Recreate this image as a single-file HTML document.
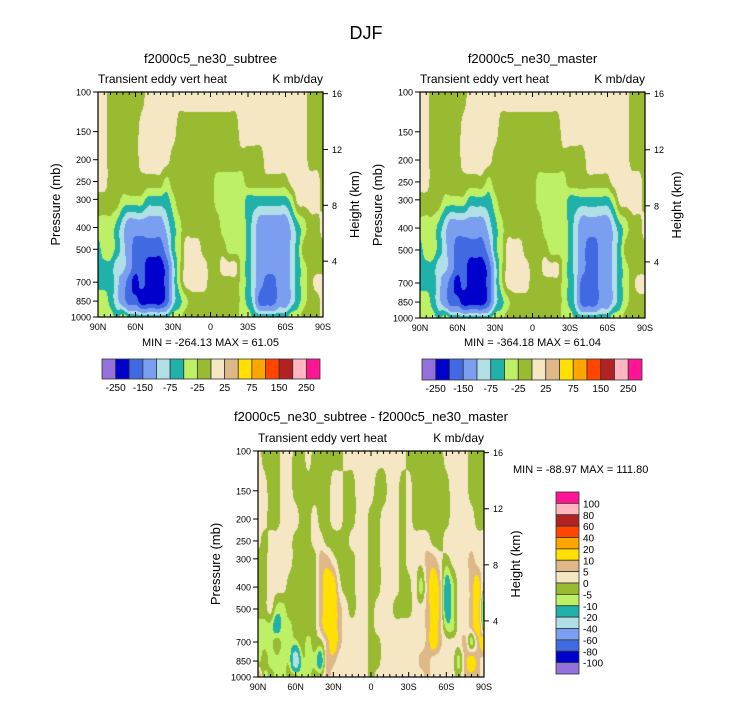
<!DOCTYPE html>
<html><head><meta charset="utf-8">
<style>
html,body{margin:0;padding:0;background:#fff;}
#wrap{position:relative;width:733px;height:701px;overflow:hidden;font-family:"Liberation Sans",Arial,sans-serif;}
canvas{position:absolute;}
svg{position:absolute;left:0;top:0;}
</style></head>
<body>
<div id="wrap">
<canvas id="c1"></canvas>
<canvas id="c2"></canvas>
<canvas id="c3"></canvas>
<svg id="ov" width="733" height="701"></svg>
</div>
<script>
// ---- data (latitude columns every 5 deg, 90N -> 90S) ----
const pLevels = [100,150,200,250,300,400,500,600,700,850,1000];
const subtreeValues = [
 [10,10,-10,-10,-10,-10,-10,-10,10,10,10,10,10,10,10,10,10,10,10,10,10,10,10,10,10,10,10,10,10,10,10,10,10,10,-10,-10,-10],
 [10,10,-10,-10,-10,-10,-10,10,10,10,10,10,10,-10,-10,-10,-10,-10,-10,-10,-10,-10,-10,10,10,10,10,10,10,10,10,10,10,10,-10,-10,-10],
 [10,10,-10,-10,-10,-10,-10,10,10,10,10,10,-10,-10,-10,-10,-10,-10,-10,-10,-10,-10,-10,-10,-10,-10,-10,10,10,10,10,10,10,10,-10,-10,-10],
 [10,10,-10,-10,-10,-10,-10,-10,-10,-10,-10,-35,-10,-10,-10,-10,-10,-10,-10,-35,-35,-35,-35,-35,-10,-10,-10,-10,-10,-10,-10,10,10,10,10,10,-10],
 [-10,-10,-10,-10,-35,-35,-35,-35,-60,-60,-60,-60,-35,-10,-10,-10,-10,-10,-10,-35,-35,-35,-35,-35,-60,-60,-60,-60,-60,-60,-60,-35,10,10,10,10,-10],
 [-35,-35,-35,-60,-90,-125,-125,-125,-125,-125,-125,-90,-60,-35,-10,-10,-10,-10,-10,-10,-35,-35,-35,-35,-60,-90,-125,-125,-125,-125,-125,-90,-60,-35,-10,-10,10],
 [-60,-35,-35,-60,-90,-125,-175,-175,-175,-175,-175,-125,-60,-35,10,10,10,-10,-10,-10,-10,-35,-35,-35,-60,-90,-125,-125,-125,-125,-125,-90,-60,-10,-10,-10,-10],
 [-60,-60,-60,-90,-90,-125,-175,-175,-225,-225,-225,-175,-90,-35,10,10,10,10,-10,-10,10,10,10,-35,-60,-90,-125,-125,-125,-125,-125,-90,-60,-35,-10,-10,-10],
 [-60,-60,-60,-90,-125,-175,-225,-175,-225,-225,-225,-175,-90,-35,10,10,10,10,-10,-10,-10,-10,-10,-35,-60,-90,-125,-175,-175,-125,-125,-90,-60,-35,-10,10,10],
 [-35,-35,-60,-90,-125,-175,-175,-225,-225,-225,-225,-175,-90,-60,-35,-10,-10,-10,-10,-10,-10,-10,-10,-35,-60,-90,-175,-175,-175,-125,-125,-90,-60,-35,-10,-10,10],
 [-35,-35,-35,-60,-35,-60,-60,-60,-60,-60,-60,-60,-35,-35,-10,-10,-10,-10,-10,-10,-10,-10,-10,-35,-35,-60,-60,-60,-60,-60,-60,-35,-35,-10,-10,-10,10]
];
const masterValues = [
 [10,10,-10,-10,-10,-10,-10,-10,10,10,10,10,10,10,10,10,10,10,10,10,10,10,10,10,10,10,10,10,10,10,10,10,10,10,-10,-10,-10],
 [10,10,-10,-10,-10,-10,-10,10,10,10,10,10,10,-10,-10,-10,-10,-10,-10,-10,-10,-10,-10,10,10,10,10,10,10,10,10,10,10,10,-10,-10,-10],
 [10,10,-10,-10,-10,-10,-10,10,10,10,10,10,-10,-10,-10,-10,-10,-10,-10,-10,-10,-10,-10,-10,-10,-10,-10,10,10,10,10,10,10,10,-10,-10,-10],
 [10,10,-10,-10,-10,-10,-10,-10,-10,-10,-10,-35,-10,-10,-10,-10,-10,-10,-10,-35,-35,-35,-35,-35,-10,-10,-10,-10,-10,-10,-10,10,10,10,10,10,-10],
 [-10,-10,-10,-10,-35,-35,-35,-35,-60,-60,-60,-60,-35,-10,-10,-10,-10,-10,-10,-35,-35,-35,-35,-35,-60,-60,-60,-60,-60,-60,-60,-35,10,10,10,10,-10],
 [-35,-35,-35,-60,-90,-125,-125,-125,-125,-125,-125,-90,-60,-35,-10,-10,-10,-10,-10,-10,-35,-35,-35,-35,-60,-90,-125,-125,-125,-125,-125,-90,-60,-35,-10,-10,10],
 [-60,-35,-35,-60,-90,-125,-175,-175,-175,-175,-175,-125,-60,-35,10,10,10,-10,-10,-10,-10,-35,-35,-35,-60,-90,-125,-175,-175,-125,-125,-90,-60,-10,-10,-10,-10],
 [-60,-60,-60,-90,-90,-125,-175,-175,-225,-225,-225,-175,-90,-35,10,10,10,10,-10,-10,10,10,10,-35,-60,-90,-125,-175,-175,-125,-125,-90,-60,-35,-10,-10,-10],
 [-60,-60,-60,-90,-125,-175,-225,-175,-225,-225,-225,-175,-90,-35,10,10,10,10,-10,-10,-10,-10,-10,-35,-60,-90,-175,-175,-175,-125,-125,-90,-60,-35,-10,10,10],
 [-35,-35,-60,-90,-125,-175,-175,-225,-225,-225,-225,-175,-90,-60,-35,-10,-10,-10,-10,-10,-10,-10,-10,-35,-60,-90,-175,-175,-175,-125,-125,-90,-60,-35,-10,-10,-10],
 [-35,-35,-35,-60,-35,-60,-60,-60,-60,-60,-60,-60,-35,-35,-10,-10,-10,-10,-10,-10,-10,-10,-10,-35,-35,-60,-60,-60,-60,-60,-60,-35,-35,-10,-10,-10,-10]
];
const diffValues = [
 [2,-2,-2,-2,2,2,-2,-2,2,-2,-2,-2,-2,-2,2,2,2,2,2,2,2,2,2,2,-2,-2,-2,-2,-2,-2,2,2,2,2,-2,-2,-2],
 [2,2,-2,-2,2,2,-2,-2,-2,-2,-2,-2,2,2,-2,-2,2,2,2,-2,-2,2,2,-2,2,-2,-2,-2,-2,-2,-2,2,2,2,-2,-2,-2],
 [2,2,-2,-2,2,2,2,-2,-2,2,-2,-2,2,2,-2,-2,2,2,-2,-2,2,2,2,-2,2,-2,-2,-2,-2,-2,-2,2,2,2,2,-2,-2],
 [2,-2,2,2,2,2,-2,-2,-2,2,2,-2,-2,-2,-2,2,2,2,-2,-2,2,2,2,-2,2,2,2,2,-2,-2,2,2,2,2,2,2,2],
 [-2,-2,2,2,2,2,-2,-2,-2,-2,7,7,2,-2,-2,-2,2,2,-2,-2,2,2,2,-2,2,2,2,7,7,2,-2,2,2,2,7,2,2],
 [-2,-2,2,2,2,-2,-2,-2,-2,-2,7,15,15,2,-2,-2,2,2,-2,-2,2,2,2,-2,-2,2,-7,7,15,7,-15,-7,2,2,7,15,-2],
 [-2,-2,2,-7,-7,-2,-2,-2,-2,-2,7,15,15,7,2,-2,2,2,-2,2,2,2,-2,-2,-2,2,2,7,15,7,-15,-7,2,2,7,15,-15],
 [-7,-7,-7,-15,-7,-7,-2,-2,-2,-2,7,15,15,7,2,2,2,2,-2,2,2,2,2,2,2,2,2,7,15,7,-7,-7,2,2,7,15,-7],
 [-7,-7,-7,-2,-7,-7,-7,-2,-7,-2,-2,7,15,7,2,2,2,2,-2,-2,2,2,2,2,2,2,2,7,15,7,2,2,2,7,-7,7,15],
 [-7,-2,-7,-7,-7,-7,-30,-7,-7,-7,-15,7,7,2,2,2,2,2,-2,-2,2,2,2,2,2,2,7,7,2,2,2,2,-7,7,15,7,2],
 [15,-7,-2,-7,-7,-2,-2,-7,-7,-2,-2,7,2,2,2,2,2,2,-2,2,2,2,2,2,2,2,2,7,2,2,2,2,-2,7,7,7,2]
];
const colors = ["#9370db","#0000cd","#4169e1","#7b9ff0","#b0e0e6","#20b2aa","#bdf065","#98bb32","#f5e6c4","#deb887","#ffe000","#ffa500","#ff4500","#b22222","#ffb6c1","#ff1493"];
const absLevels = [-250,-200,-150,-100,-75,-50,-25,0,25,50,75,100,150,200,250];
const absLabels = ["-250","-150","-75","-25","25","75","150","250"];
const diffLevels = [-100,-80,-60,-40,-20,-10,-5,0,5,10,20,40,60,80,100];
const pTicks = [100,150,200,250,300,400,500,700,850,1000];
const hTicks = [16,12,8,4];
const latTicks = [90,60,30,0,-30,-60,-90];
const latNames = ["90N","60N","30N","0","30S","60S","90S"];

// ---- helpers ----
const NS="http://www.w3.org/2000/svg";
const ov=document.getElementById('ov');
function mk(tag,attrs,txt,name,inter){const e=document.createElementNS(NS,tag);for(const k in attrs)e.setAttribute(k,attrs[k]);if(txt!==undefined)e.textContent=txt;


ov.appendChild(e);return e;}
function xScale(P,lat){return P.x+(90-lat)/180*P.w;}
function yScale(P,p){return P.y+(Math.log10(p)-2)*P.h;}
function colorFor(v,levels){let i=0;while(i<levels.length&&v>=levels[i])i++;return colors[i];}
function cr(p0,p1,p2,p3,t){return 0.5*((2*p1)+(-p0+p2)*t+(2*p0-5*p1+4*p2-p3)*t*t+(-p0+3*p1-3*p2+p3)*t*t*t);}
function interp(vals,lat,p){
  const n=vals[0].length, m=vals.length; const step=180/(n-1);
  const fi=(90-lat)/step; const i0=Math.max(0,Math.min(Math.floor(fi),n-2)); const fx=fi-i0;
  const lp=Math.log10(p); let j0=0;
  for(let j=0;j<pLevels.length-1;j++){if(lp>=Math.log10(pLevels[j]))j0=j;}
  j0=Math.min(j0,m-2);
  const a=Math.log10(pLevels[j0]),b=Math.log10(pLevels[j0+1]); let fy=(lp-a)/(b-a); fy=Math.max(0,Math.min(1,fy));
  const ci=k=>Math.max(0,Math.min(n-1,k)), cj=k=>Math.max(0,Math.min(m-1,k));
  const rowv=[];
  for(let dj=-1;dj<=2;dj++){const r=vals[cj(j0+dj)];
    rowv.push(cr(r[ci(i0-1)],r[ci(i0)],r[ci(i0+1)],r[ci(i0+2)],fx));}
  return cr(rowv[0],rowv[1],rowv[2],rowv[3],fy);
}
function drawField(id,P,vals,levels){
  const c=document.getElementById(id);c.width=P.w;c.height=P.h;c.style.left=P.x+'px';c.style.top=P.y+'px';
  const ctx=c.getContext('2d');
  for(let py=0;py<P.h;py++){const p=Math.pow(10,2+(py+0.5)/P.h);
    for(let px=0;px<P.w;px++){const lat=90-(px+0.5)/P.w*180;
      ctx.fillStyle=colorFor(interp(vals,lat,p),levels);ctx.fillRect(px,py,1,1);}}
}
function drawAxes(P,pre){
  mk('rect',{x:P.x,y:P.y,width:P.w,height:P.h,fill:'none',stroke:'#000','stroke-width':1.2},undefined,pre+'-plot-frame');
  pTicks.forEach(p=>{const y=yScale(P,p);
    mk('line',{x1:P.x-5,y1:y,x2:P.x,y2:y,stroke:'#000'},undefined,pre+'-pressure-tick');
    mk('text',{x:P.x-7,y:y+3.5,'font-size':9,'text-anchor':'end'},String(p),pre+'-pressure-label');});
  hTicks.forEach(h=>{const p=1000*Math.exp(-h/7);const y=yScale(P,p);
    mk('line',{x1:P.x+P.w,y1:y,x2:P.x+P.w+5,y2:y,stroke:'#000'},undefined,pre+'-height-tick');
    mk('text',{x:P.x+P.w+9,y:y+3.5,'font-size':9},String(h),pre+'-height-label');});
  for(let lat=90;lat>=-90;lat-=5){const x=xScale(P,lat);const maj=lat%30===0;const L=maj?5:3;
    mk('line',{x1:x,y1:P.y,x2:x,y2:P.y+L,stroke:'#000'},undefined,pre+'-lat-tick-top');
    mk('line',{x1:x,y1:P.y+P.h,x2:x,y2:P.y+P.h-L,stroke:'#000'},undefined,pre+'-lat-tick');}
  latTicks.forEach((lat,i)=>mk('text',{x:xScale(P,lat),y:P.y+P.h+13,'font-size':9,'text-anchor':'middle'},latNames[i],pre+'-lat-label'));
  mk('text',{x:P.x,y:P.y-9,'font-size':12},'Transient eddy vert heat',pre+'-left-string');
  mk('text',{x:P.x+P.w,y:P.y-9,'font-size':12,'text-anchor':'end'},'K mb/day',pre+'-right-string');
  mk('text',{x:0,y:0,'font-size':13,'text-anchor':'middle',transform:`translate(${P.x-38},${P.y+P.h/2}) rotate(-90)`},'Pressure (mb)',pre+'-y-axis-title');
  mk('text',{x:0,y:0,'font-size':13,'text-anchor':'middle',transform:`translate(${P.x+P.w+36},${P.y+P.h/2}) rotate(-90)`},'Height (km)',pre+'-right-axis-title');
}
function hBar(x,y,w,h,pre){const bw=w/16;
  colors.forEach((c,i)=>mk('rect',{x:x+i*bw,y:y,width:bw,height:h,fill:c,stroke:'#333','stroke-width':0.8},undefined,pre+'-colorbar-box'));
  absLabels.forEach((t,k)=>mk('text',{x:x+(2*k+1)*bw,y:y+h+12,'font-size':10,'text-anchor':'middle'},t,pre+'-colorbar-label'));
}

// ---- panels ----
const P1={x:98,y:92,w:225,h:225}, P2={x:420,y:92,w:225,h:226}, P3={x:258,y:451,w:226,h:226};
drawField('c1',P1,subtreeValues,absLevels);
drawField('c2',P2,masterValues,absLevels);
drawField('c3',P3,diffValues,diffLevels);
mk('text',{x:366,y:39,'font-size':18,'text-anchor':'middle'},'DJF','main-title');
mk('text',{x:P1.x+P1.w/2,y:63,'font-size':13,'text-anchor':'middle'},'f2000c5_ne30_subtree','subtree-title');
mk('text',{x:P2.x+P2.w/2,y:63,'font-size':13,'text-anchor':'middle'},'f2000c5_ne30_master','master-title');
mk('text',{x:P3.x+P3.w/2,y:421,'font-size':13,'text-anchor':'middle'},'f2000c5_ne30_subtree - f2000c5_ne30_master','difference-title');
drawAxes(P1,'subtree');drawAxes(P2,'master');drawAxes(P3,'difference');
mk('text',{x:P1.x+P1.w/2,y:346,'font-size':11,'text-anchor':'middle'},'MIN = -264.13  MAX =  61.05','subtree-min-max');
mk('text',{x:P2.x+P2.w/2,y:346,'font-size':11,'text-anchor':'middle'},'MIN = -364.18  MAX =  61.04','master-min-max');
mk('text',{x:513,y:473,'font-size':11},'MIN = -88.97  MAX = 111.80','difference-min-max');
hBar(102,359,218,20,'subtree');hBar(422,359,220,21,'master');
(function(){const x=556,y=492,w=23,h=182,bh=h/16;
  for(let i=0;i<16;i++)mk('rect',{x:x,y:y+i*bh,width:w,height:bh,fill:colors[15-i],stroke:'#333','stroke-width':0.8},undefined,'difference-colorbar-box');
  for(let k=0;k<15;k++){const lv=diffLevels[14-k];mk('text',{x:x+w+4,y:y+(k+1)*bh+4,'font-size':10},String(lv),'difference-colorbar-label');}
})();
</script>
</body></html>
